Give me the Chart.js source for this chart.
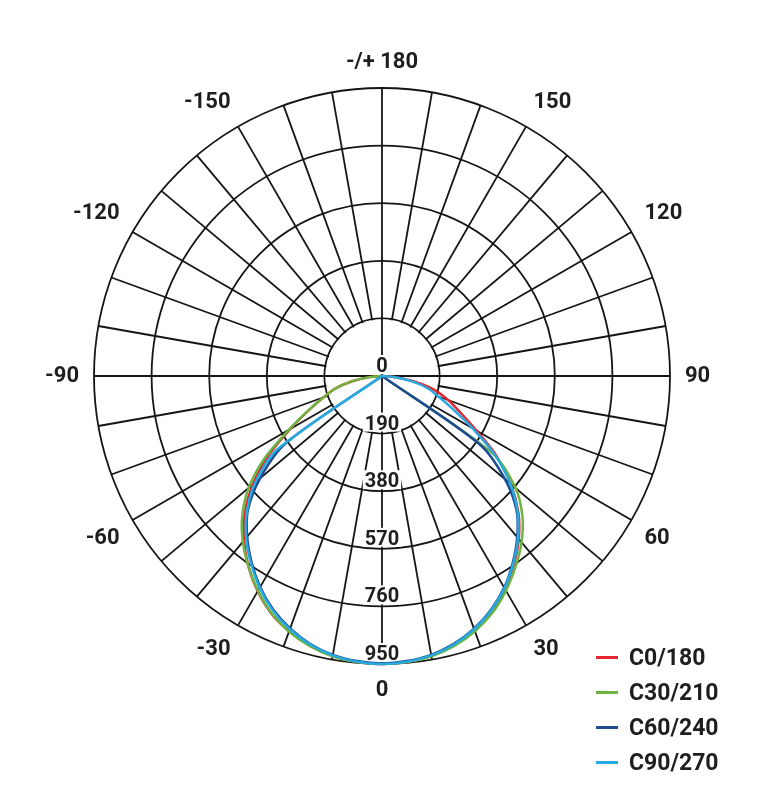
<!DOCTYPE html>
<html>
<head>
<meta charset="utf-8">
<script src="https://cdn.jsdelivr.net/npm/chart.js@4.4.1/dist/chart.umd.min.js"></script>
<style>
  body { margin: 0; background: #fff; }
  #wrap { position: relative; width: 769px; height: 797px; }
  #legend { position: absolute; left: 596px; top: 640px; font-family: Roboto, sans-serif; font-weight: 700; font-size: 23px; color: #1e1e1e; }
  #legend div { height: 35px; display: flex; align-items: center; }
  #legend span.sw { display: inline-block; width: 22px; height: 3px; margin-right: 11px; }
</style>
</head>
<body>
<div id="wrap">
  <canvas id="plot"></canvas>
  <div id="legend"></div>
</div>
<script>
// angle labels, clockwise from top (gamma in degrees)
const gammaLabels = [180, 175, 170, 165, 160, 155, 150, 145, 140, 135, 130, 125,
  120, 115, 110, 105, 100, 95, 90, 85, 80, 75, 70, 65, 60, 55, 50, 45, 40, 35,
  30, 25, 20, 15, 10, 5, 0, -5, -10, -15, -20, -25, -30, -35, -40, -45, -50,
  -55, -60, -65, -70, -75, -80, -85, -90, -95, -100, -105, -110, -115, -120,
  -125, -130, -135, -140, -145, -150, -155, -160, -165, -170, -175];

// intensity (cd) at gamma 0,5,...,90 on each half of the C-plane
const halfGamma = [0, 5, 10, 15, 20, 25, 30, 35, 40, 45, 50, 55, 60, 65, 70, 75, 80, 85, 90];
const c0 =   [950, 947, 937, 919, 892, 857, 811, 758, 702, 636, 555, 462, 360, 285, 232, 180, 110, 45, 0];
const c180 = [950, 946, 938, 921, 896, 864, 820, 768, 708, 640, 556, 458, 350, 265, 205, 160, 100, 42, 0];
const c30 =  [950, 947, 939, 922, 896, 862, 818, 768, 716, 655, 575, 445, 0, 0, 0, 0, 0, 0, 0];
const c210 = [950, 947, 939, 922, 897, 863, 818, 768, 714, 652, 574, 472, 355, 268, 205, 160, 102, 42, 0];
const c60 =  [948, 944, 934, 915, 887, 851, 806, 752, 694, 628, 530, 395, 0, 0, 0, 0, 0, 0, 0];
const c240 = [948, 944, 934, 915, 886, 850, 804, 750, 692, 626, 525, 390, 0, 0, 0, 0, 0, 0, 0];
const c90 =  [950, 946, 936, 917, 889, 853, 808, 755, 698, 632, 552, 455, 345, 258, 198, 156, 98, 40, 0];
const c270 = [950, 946, 936, 917, 889, 853, 807, 754, 697, 630, 545, 420, 0, 0, 0, 0, 0, 0, 0];

const seriesNames = ['C0/180', 'C30/210', 'C60/240', 'C90/270'];
const seriesColors = ['#e3262f', '#6db543', '#1c4d92', '#27a9e1'];
const ringValues = [0, 190, 380, 570, 760, 950];

const gridColor = '#151515';
const gridWidth = 1.8;
const textColor = '#1e1e1e';

// put the two halves onto the full circle of labels
function toCircle(right, left) {
  return gammaLabels.map(g => {
    const k = halfGamma.indexOf(Math.abs(g));
    if (k < 0) return 0;
    return g >= 0 ? right[k] : left[k];
  });
}

const seriesData = [toCircle(c0, c180), toCircle(c30, c210), toCircle(c60, c240), toCircle(c90, c270)];

// inner disk: spokes start at the first ring, ring labels sit below centre
const innerPlugin = {
  id: 'inner',
  beforeDatasetsDraw(chart) {
    const s = chart.scales.r;
    const ctx = chart.ctx;
    const r1 = s.getDistanceFromCenterForValue(ringValues[1]);
    ctx.save();
    ctx.fillStyle = '#fff';
    ctx.beginPath();
    ctx.arc(s.xCenter, s.yCenter, r1 - 1.2, 0, Math.PI * 2);
    ctx.fill();

    ctx.strokeStyle = gridColor;
    ctx.lineWidth = gridWidth;
    ctx.beginPath();
    [0, 18].forEach(i => {
      const a = s.getPointPosition(i, r1);
      const b = s.getPointPosition(i + 36, r1);
      ctx.moveTo(a.x, a.y);
      ctx.lineTo(b.x, b.y);
    });
    ctx.stroke();

    ctx.font = 'bold 20px Roboto, sans-serif';
    ctx.textAlign = 'center';
    ctx.textBaseline = 'alphabetic';
    ringValues.forEach(v => {
      const r = s.getDistanceFromCenterForValue(v);
      const y = s.yCenter + r - 4;
      const txt = String(v);
      const w = ctx.measureText(txt).width;
      ctx.fillStyle = '#fff';
      ctx.fillRect(s.xCenter - w / 2 - 2, y - 17, w + 4, 19);
      ctx.fillStyle = textColor;
      ctx.fillText(txt, s.xCenter, y);
    });
    ctx.restore();
  }
};

const ctx = document.getElementById('plot').getContext('2d');
new Chart(ctx, {
  type: 'radar',
  data: {
    labels: gammaLabels,
    datasets: seriesNames.map((name, i) => ({
      label: name,
      data: seriesData[i],
      borderColor: seriesColors[i],
      backgroundColor: seriesColors[i],
      fill: false,
      order: seriesNames.length - i
    }))
  },
  options: {
    responsive: true,
    maintainAspectRatio: false,
    animation: false,
    layout: { padding: { top: 51, bottom: 96, left: 0, right: 5 } },
    elements: {
      line: { borderWidth: 2.5, tension: 0.3 },
      point: { radius: 0, hoverRadius: 0 }
    },
    plugins: {
      legend: { display: false },
      tooltip: { enabled: false }
    },
    scales: {
      r: {
        min: 0,
        max: 950,
        startAngle: 0,
        ticks: { stepSize: 190, display: false },
        grid: { circular: true, color: gridColor, lineWidth: gridWidth },
        angleLines: {
          color: c => (c.index % 2 === 0 ? gridColor : 'rgba(0,0,0,0)'),
          lineWidth: gridWidth
        },
        pointLabels: {
          padding: 15,
          color: textColor,
          font: { family: 'Roboto', size: 22, weight: 'bold', lineHeight: 1 },
          callback: g => (g % 30 === 0 ? (g === 180 ? '-/+ 180' : String(g)) : '')
        }
      }
    }
  },
  plugins: [innerPlugin]
});

// legend
const legend = document.getElementById('legend');
seriesNames.forEach((name, i) => {
  const row = document.createElement('div');
  const sw = document.createElement('span');
  sw.className = 'sw';
  sw.style.background = seriesColors[i];
  row.appendChild(sw);
  row.appendChild(document.createTextNode(name));
  legend.appendChild(row);
});
</script>
</body>
</html>
